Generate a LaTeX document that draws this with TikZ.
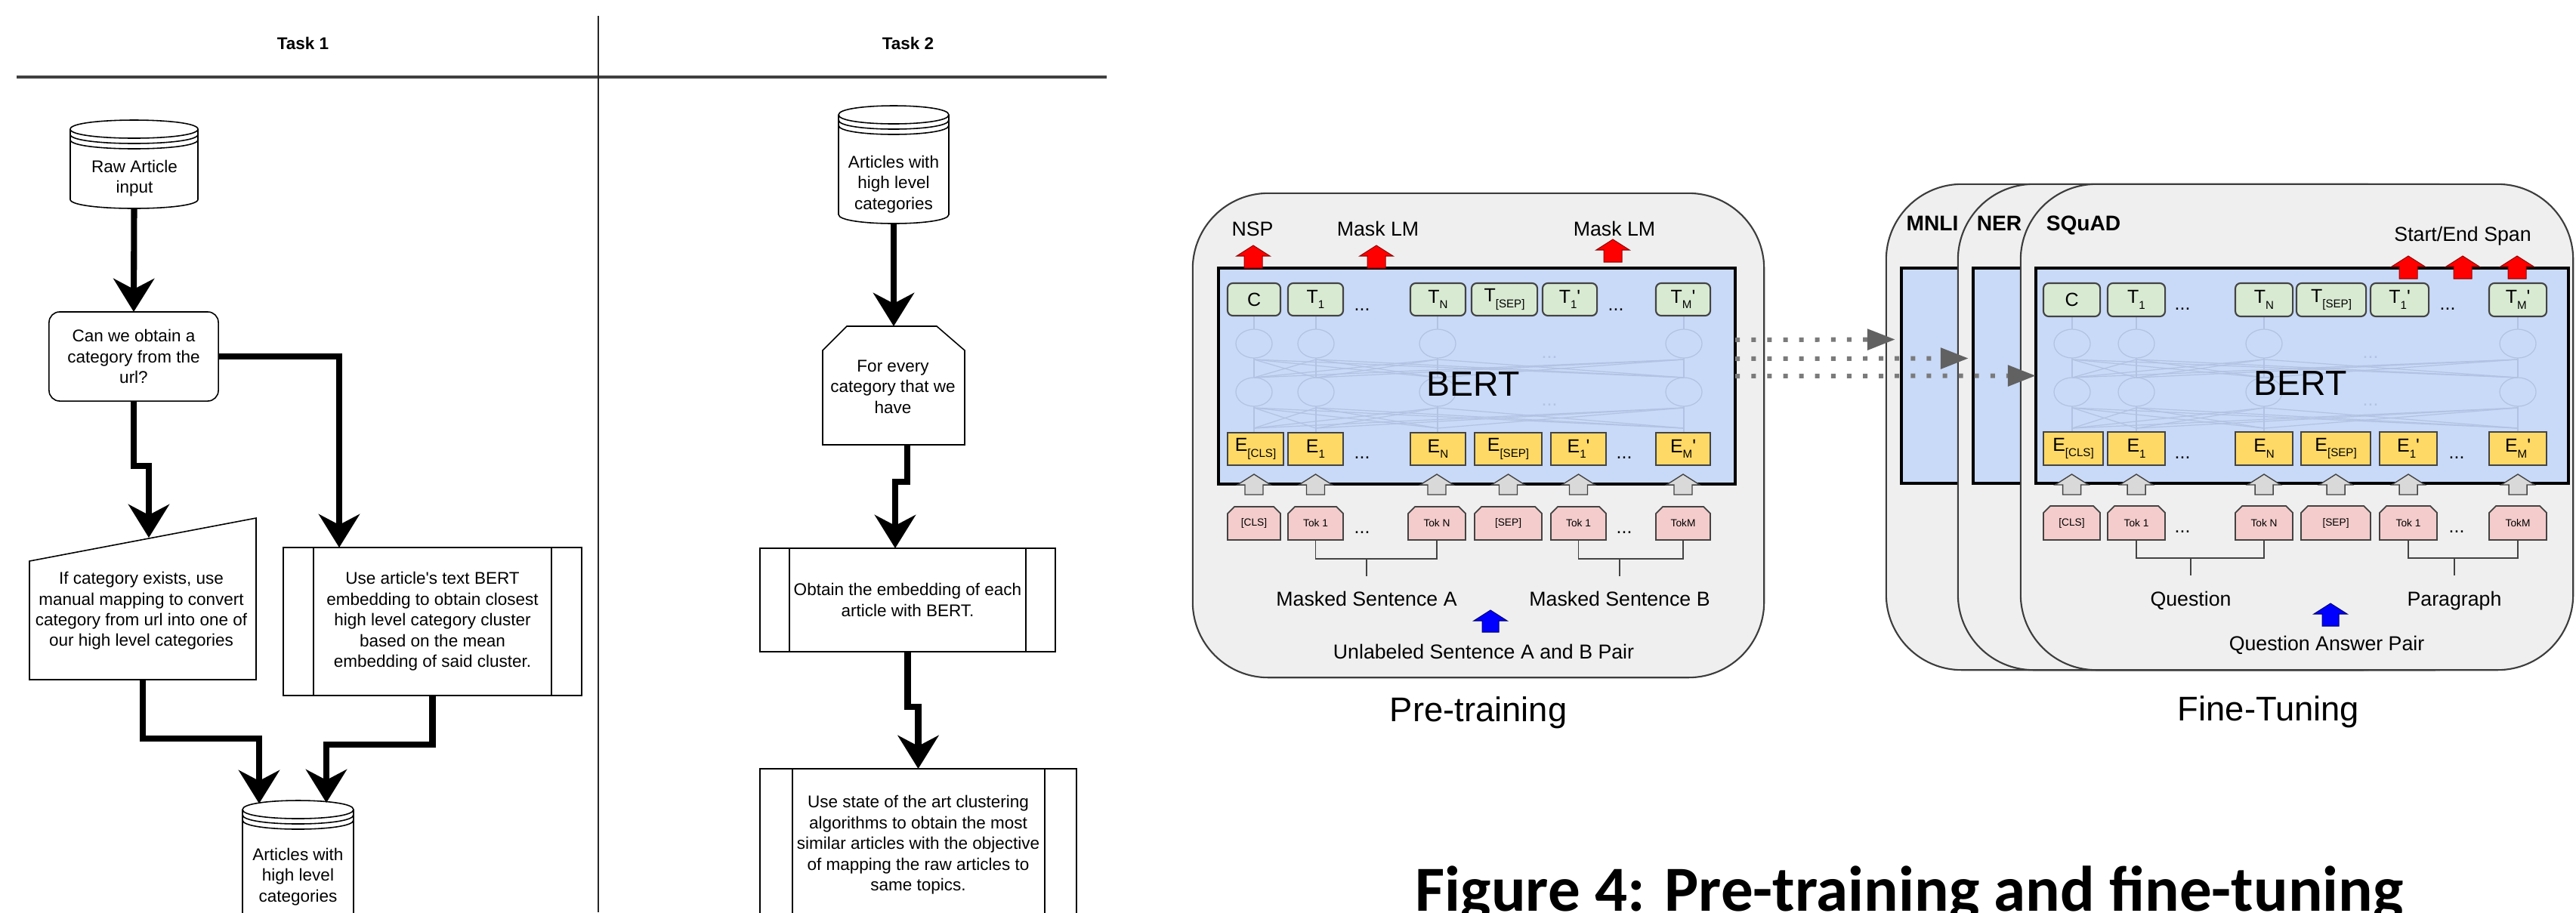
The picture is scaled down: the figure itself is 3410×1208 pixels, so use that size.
\documentclass[tikz,border=0pt]{standalone}
\usepackage{fontspec}
\usepackage{graphicx}
\setmainfont{Liberation Sans}
\newfontfamily\capfont{Carlito}
\usetikzlibrary{arrows.meta,calc}

\definecolor{panelbg}{HTML}{EFEFEF}
\definecolor{panelln}{HTML}{3C3C3C}
\definecolor{bertbl}{HTML}{C9DAF8}
\definecolor{tgreen}{HTML}{D9EAD3}
\definecolor{eyel}{HTML}{FFD966}
\definecolor{tokpink}{HTML}{F4CCCC}
\definecolor{garrow}{HTML}{D9D9D9}
\definecolor{boxln}{HTML}{434343}
\definecolor{faint}{HTML}{B2C2E2}
\definecolor{dotgray}{HTML}{7A7A7A}

\newcommand{\flowfs}{\fontsize{6.4pt}{7.8pt}\selectfont}
\newcommand{\taskfs}{\fontsize{6.4pt}{7.5pt}\selectfont\bfseries}
\newcommand{\lblfs}{\fontsize{7.6pt}{9pt}\selectfont}
\newcommand{\bigfs}{\fontsize{12.9pt}{15pt}\selectfont}
\newcommand{\bertfs}{\fontsize{13.2pt}{15pt}\selectfont}
\newcommand{\tasknmfs}{\fontsize{8pt}{9pt}\selectfont\bfseries}
\newcommand{\boxfs}{\fontsize{7.1pt}{8pt}\selectfont}
\newcommand{\subfs}{\fontsize{4.3pt}{5pt}\selectfont}
\newcommand{\tokfs}{\fontsize{3.9pt}{4.6pt}\selectfont}
\newcommand{\sbs}[1]{\raisebox{-0.55ex}{\subfs #1}}
\newcommand{\prm}{\textquotesingle}

% generic box: style, name, x1, x2, y1, y2, text
\newcommand{\mkbox}[7]{%
  \pgfmathsetmacro{\bxcx}{(#3+#4)/2}%
  \pgfmathsetmacro{\bxcy}{(#5+#6)/2}%
  \pgfmathsetmacro{\bxw}{(#4-#3)/100}%
  \pgfmathsetmacro{\bxh}{(#6-#5)/100}%
  \node[#1, minimum width=\bxw cm, minimum height=\bxh cm] (#2) at (\bxcx,\bxcy) {#7};}
% token box with chamfered top corners: name, x1, x2, y1, y2, text
\newcommand{\tokn}[6]{%
  \pgfmathsetmacro{\bxcx}{(#2+#3)/2}%
  \pgfmathsetmacro{\bxcy}{(#4+#5)/2}%
  \pgfmathsetmacro{\bxw}{(#3-#2)/100}%
  \pgfmathsetmacro{\bxh}{(#5-#4)/100}%
  \draw[tokline] (#2,#5) -- (#2,#4+9) -- (#2+9,#4) -- (#3-9,#4) -- (#3,#4+9) -- (#3,#5) -- cycle;
  \node[toktxt, minimum width=\bxw cm, minimum height=\bxh cm] (#1) at (\bxcx,\bxcy) {#6};}
% block arrow pointing up: style, cx, ytip, ybase, half head, half shaft
\newcommand{\blkup}[6]{%
  \draw[#1] (#2,#3) -- (#2+#5,#3+14) -- (#2+#6,#3+14) -- (#2+#6,#4) -- (#2-#6,#4) -- (#2-#6,#3+14) -- (#2-#5,#3+14) -- cycle;}
% datastore cylinder: x1, x2, ytop, ybot
\newcommand{\cylshape}[4]{%
  \draw[flowshape] (#1,#3+12) -- (#1,#4-12) .. controls (#1,#4+4) and (#2,#4+4) .. (#2,#4-12) -- (#2,#3+12) .. controls (#2,#3-4) and (#1,#3-4) .. (#1,#3+12) -- cycle;
  \draw[flowshape,fill=none] (#1,#3+12) .. controls (#1,#3+28) and (#2,#3+28) .. (#2,#3+12);
  \draw[flowshape,fill=none] (#1,#3+19) .. controls (#1,#3+35) and (#2,#3+35) .. (#2,#3+19);
  \draw[flowshape,fill=none] (#1,#3+26) .. controls (#1,#3+42) and (#2,#3+42) .. (#2,#3+26);}
% faint network inside a BERT box: list of columns, x of faint dots
\newcommand{\faintnet}[2]{%
  \foreach \c in {#1} {
    \draw[faintln] (\c,455) ellipse [x radius=0.24cm, y radius=0.19cm];
    \draw[faintln] (\c,519) ellipse [x radius=0.24cm, y radius=0.19cm];
    \draw[faintln] (\c,418) -- (\c,436);
    \draw[faintln] (\c,474) -- (\c,500);
    \draw[faintln] (\c,538) -- (\c,573);
    \foreach \d in {#1} {
      \draw[faintln] (\c,500) -- (\d,476);
      \draw[faintln] (\c,567) -- (\d,540);
    }
  }
  \node[font=\boxfs, text=faint, inner sep=0pt, anchor=base] at (#2,474) {...};
  \node[font=\boxfs, text=faint, inner sep=0pt, anchor=base] at (#2,537) {...};}

\begin{document}
\begin{tikzpicture}[x=0.01cm, y=-0.01cm,
  flowarrow/.style={line width=2.3pt, line join=miter, -{Stealth[length=0.44cm, width=0.54cm, inset=0.14cm]}},
  flowshape/.style={draw=black, fill=white, line width=0.45pt},
  flowtxt/.style={align=center, font=\flowfs, inner sep=0pt},
  ghost/.style={draw=none, inner sep=0pt, outer sep=0pt},
  decbox/.style={draw=black, fill=white, line width=0.45pt, rounded corners=0.14cm, align=center, font=\flowfs, inner sep=0pt, outer sep=0pt},
  subbox/.style={draw=black, fill=white, line width=0.45pt, align=center, font=\flowfs, inner sep=0pt, outer sep=0pt},
  tasklbl/.style={font=\taskfs, inner sep=0pt, anchor=base},
  laneln/.style={draw=black!85, line width=0.6pt},
  hdrln/.style={draw=black!75, line width=1pt},
  panel/.style={draw=panelln, fill=panelbg, line width=0.6pt, rounded corners=1cm, inner sep=0pt, outer sep=0pt},
  bertbox/.style={draw=black, fill=bertbl, line width=1.1pt, inner sep=0pt, outer sep=0pt},
  tbox/.style={draw=boxln, fill=tgreen, rounded corners=0.07cm, line width=0.6pt, font=\boxfs, inner sep=0pt, outer sep=0pt},
  ebox/.style={draw=boxln, fill=eyel, line width=0.5pt, font=\boxfs, inner sep=0pt, outer sep=0pt},
  toktxt/.style={font=\tokfs, inner sep=0pt, outer sep=0pt},
  tokline/.style={draw=boxln, fill=tokpink, line width=0.5pt},
  garr/.style={draw=boxln, fill=garrow, line width=0.4pt},
  rarr/.style={draw=red!60!black, fill=red, line width=0.3pt},
  barr/.style={draw=blue!50!black, fill=blue, line width=0.3pt},
  lbl/.style={font=\lblfs, inner sep=0pt, anchor=base},
  biglbl/.style={font=\bigfs, inner sep=0pt, anchor=base},
  bertlbl/.style={font=\bertfs, inner sep=0pt, anchor=base},
  tasknm/.style={font=\tasknmfs, inner sep=0pt, anchor=base west},
  dotsl/.style={font=\boxfs, inner sep=0pt, anchor=base},
  brk/.style={draw=boxln, line width=0.5pt},
  faintln/.style={draw=faint, line width=0.35pt},
  dotarr/.style={draw=dotgray, line width=1.7pt, dash pattern=on 1.7pt off 4.3pt, -{Triangle[length=0.37cm, width=0.27cm, color=black!62]}}
]
\useasboundingbox (0,0) rectangle (3410,1208);
\fill[white] (0,0) rectangle (3410,1208);

%% ================= swimlane flowchart =================
\draw[hdrln] (22,102) -- (1465,102);
\draw[laneln] (792,21) -- (792,1208);
\node[tasklbl] (task1) at (401,65) {Task 1};
\node[tasklbl] (task2) at (1202,65) {Task 2};

% --- Task 1 ---
\cylshape{93}{262}{159}{276}
\mkbox{ghost}{raw}{93}{262}{159}{276}{}
\node[flowtxt] (rawtxt) at (178,236) {Raw Article\\input};

\mkbox{decbox}{dec}{65}{289}{413}{531}{Can we obtain a\\category from the\\url?}
\draw[flowarrow] (raw.south) -- (dec.north);

\draw[flowshape] (39,743) -- (339,686) -- (339,900) -- (39,900) -- cycle;
\mkbox{ghost}{man}{39}{339}{686}{900}{}
\node[flowtxt] (mantxt) at (187,809) {If category exists, use\\manual mapping to convert\\category from url into one of\\our high level categories};
\coordinate (manin) at (197,712);
\draw[flowarrow] (dec.south) -- ++(0,86) -| (manin);

\mkbox{subbox}{sub1}{375}{770}{725}{921}{Use article\textquotesingle s text BERT\\embedding to obtain closest\\high level category cluster\\based on the mean\\embedding of said cluster.}
\draw[flowshape] ($(sub1.north west)+(40,0)$) -- ($(sub1.south west)+(40,0)$);
\draw[flowshape] ($(sub1.north east)+(-40,0)$) -- ($(sub1.south east)+(-40,0)$);
\coordinate (sub1in) at (449,725);
\draw[flowarrow] (dec.east) -| (sub1in);

\cylshape{321}{468}{1060}{1262}
\mkbox{ghost}{out1}{321}{468}{1060}{1262}{}
\node[flowtxt] (out1txt) at (394.5,1161) {Articles with\\high level\\categories};
\coordinate (out1L) at (343,1064);
\coordinate (out1R) at (432,1063);
\draw[flowarrow] (man.south) -- ++(0,78) -| (out1L);
\draw[flowarrow] (sub1.south) -- ++(0,65) -| (out1R);

% --- Task 2 ---
\cylshape{1110}{1256}{140}{296}
\mkbox{ghost}{art2}{1110}{1256}{140}{296}{}
\node[flowtxt] (art2txt) at (1183,244) {Articles with\\high level\\categories};

\draw[flowshape] (1089,464) -- (1121,432) -- (1240,432) -- (1277,464) -- (1277,589) -- (1089,589) -- cycle;
\mkbox{ghost}{loop}{1089}{1277}{432}{589}{}
\node[flowtxt] (looptxt) at (1182,512) {For every\\category that we\\have};
\draw[flowarrow] (art2.south) -- (loop.north);

\mkbox{subbox}{sub2}{1006}{1397}{726}{863}{Obtain the embedding of each\\article with BERT.}
\draw[flowshape] ($(sub2.north west)+(39,0)$) -- ($(sub2.south west)+(39,0)$);
\draw[flowshape] ($(sub2.north east)+(-39,0)$) -- ($(sub2.south east)+(-39,0)$);
\coordinate (sub2in) at (1185,726);
\draw[flowarrow] ($(loop.south)+(18,0)$) -- ++(0,49) -| (sub2in);

\mkbox{subbox}{sub3}{1006}{1425}{1018}{1220}{Use state of the art clustering\\algorithms to obtain the most\\similar articles with the objective\\of mapping the raw articles to\\same topics.}
\draw[flowshape] ($(sub3.north west)+(43,0)$) -- ($(sub3.south west)+(43,0)$);
\draw[flowshape] ($(sub3.north east)+(-42,0)$) -- ($(sub3.south east)+(-42,0)$);
\draw[flowarrow] (sub2.south) -- ++(0,73) -| (sub3.north);

%% ================= BERT pre-training =================
\mkbox{panel}{pre}{1579}{2335}{256}{897}{}
\mkbox{bertbox}{pbert}{1613}{2297}{355}{641}{}
\faintnet{1660,1742,1903,2229}{2051}
\node[bertlbl] (pbertlbl) at (1950,524) {BERT};

\mkbox{tbox}{pT0}{1625}{1695}{375}{418}{C}
\mkbox{tbox}{pT1}{1705}{1778}{375}{418}{T\sbs{1}}
\mkbox{tbox}{pTN}{1867}{1940}{375}{418}{T\sbs{N}}
\mkbox{tbox}{pTS}{1948}{2035}{375}{418}{T\sbs{[SEP]}}
\mkbox{tbox}{pT1b}{2042}{2114}{375}{418}{T\sbs{1}\prm}
\mkbox{tbox}{pTM}{2192}{2264}{375}{418}{T\sbs{M}\prm}
\node[dotsl] at (1803,411) {...};
\node[dotsl] at (2139,411) {...};

\mkbox{ebox}{pE0}{1625}{1699}{573}{616}{E\sbs{[CLS]}}
\mkbox{ebox}{pE1}{1705}{1778}{573}{616}{E\sbs{1}}
\mkbox{ebox}{pEN}{1867}{1940}{573}{616}{E\sbs{N}}
\mkbox{ebox}{pES}{1952}{2041}{573}{616}{E\sbs{[SEP]}}
\mkbox{ebox}{pE1b}{2053}{2126}{573}{616}{E\sbs{1}\prm}
\mkbox{ebox}{pEM}{2192}{2264}{573}{616}{E\sbs{M}\prm}
\node[dotsl] at (1803,607) {...};
\node[dotsl] at (2150,607) {...};

\tokn{pK0}{1625}{1695}{671}{715}{[CLS]}
\tokn{pK1}{1705}{1778}{671}{715}{Tok 1}
\tokn{pKN}{1864}{1940}{671}{715}{Tok N}
\tokn{pKS}{1952}{2041}{671}{715}{[SEP]}
\tokn{pK1b}{2053}{2126}{671}{715}{Tok 1}
\tokn{pKM}{2192}{2264}{671}{715}{TokM}
\node[dotsl] at (1803,706) {...};
\node[dotsl] at (2150,706) {...};

\foreach \x in {1660,1741.5,1902,1996.5,2089.5,2228} {\blkup{garr}{\x}{628}{655}{22}{12}}
\blkup{rarr}{1659}{325}{355}{22}{12}
\blkup{rarr}{1822}{325}{355}{22}{12}
\blkup{rarr}{2135}{317}{347}{22}{12}
\node[lbl] (nsp) at (1658,312) {NSP};
\node[lbl] (mlm1) at (1824,312) {Mask LM};
\node[lbl] (mlm2) at (2137,312) {Mask LM};

\draw[brk] (pK1.south) -- ++(0,25) -| (pKN.south);
\draw[brk] (pK1b.south) -- ++(0,25) -| (pKM.south);
\coordinate (stemA) at (1809,740);
\coordinate (stemB) at (2144,740);
\draw[brk] (stemA) -- ++(0,23);
\draw[brk] (stemB) -- ++(0,23);
\node[lbl] (msa) at (1809,802) {Masked Sentence A};
\node[lbl] (msb) at (2144,802) {Masked Sentence B};
\blkup{barr}{1973}{808}{837}{22}{11}
\node[lbl] (unl) at (1964,872) {Unlabeled Sentence A and B Pair};
\node[biglbl] (pretr) at (1957,955) {Pre-training};

%% ================= BERT fine-tuning =================
\mkbox{panel}{pmnli}{2497}{3228}{244}{887}{}
\mkbox{bertbox}{mnlib}{2517}{3222}{355}{640}{}
\node[tasknm] (mnlil) at (2523,305) {MNLI};
\mkbox{panel}{pner}{2592}{3323}{244}{887}{}
\mkbox{bertbox}{nerb}{2612}{3317}{355}{640}{}
\node[tasknm] (nerl) at (2616,305) {NER};
\mkbox{panel}{psq}{2675}{3406}{244}{887}{}
\mkbox{bertbox}{sqb}{2695}{3400}{355}{640}{}
\node[tasknm] (sql) at (2708,305) {SQuAD};

\faintnet{2743,2828,2997,3333}{3138}
\node[bertlbl] (fbertlbl) at (3045,523) {BERT};

\mkbox{tbox}{fT0}{2705}{2780}{375}{419}{C}
\mkbox{tbox}{fT1}{2790}{2866}{375}{419}{T\sbs{1}}
\mkbox{tbox}{fTN}{2959}{3035}{375}{419}{T\sbs{N}}
\mkbox{tbox}{fTS}{3040}{3132}{375}{419}{T\sbs{[SEP]}}
\mkbox{tbox}{fT1b}{3138}{3215}{375}{419}{T\sbs{1}\prm}
\mkbox{tbox}{fTM}{3295}{3371}{375}{419}{T\sbs{M}\prm}
\node[dotsl] at (2889,410) {...};
\node[dotsl] at (3240,410) {...};

\mkbox{ebox}{fE0}{2705}{2784}{572}{616}{E\sbs{[CLS]}}
\mkbox{ebox}{fE1}{2790}{2866}{572}{616}{E\sbs{1}}
\mkbox{ebox}{fEN}{2959}{3035}{572}{616}{E\sbs{N}}
\mkbox{ebox}{fES}{3046}{3138}{572}{616}{E\sbs{[SEP]}}
\mkbox{ebox}{fE1b}{3150}{3226}{572}{616}{E\sbs{1}\prm}
\mkbox{ebox}{fEM}{3295}{3371}{572}{616}{E\sbs{M}\prm}
\node[dotsl] at (2889,607) {...};
\node[dotsl] at (3252,607) {...};

\tokn{fK0}{2705}{2780}{670}{715}{[CLS]}
\tokn{fK1}{2790}{2866}{670}{715}{Tok 1}
\tokn{fKN}{2959}{3035}{670}{715}{Tok N}
\tokn{fKS}{3046}{3138}{670}{715}{[SEP]}
\tokn{fK1b}{3150}{3226}{670}{715}{Tok 1}
\tokn{fKM}{3295}{3371}{670}{715}{TokM}
\node[dotsl] at (2889,705) {...};
\node[dotsl] at (3252,705) {...};

\foreach \x in {2742.5,2828,2997,3092,3188,3333} {\blkup{garr}{\x}{628}{655}{22}{12}}
\blkup{rarr}{3188}{339}{369}{22}{12}
\blkup{rarr}{3260}{339}{369}{22}{12}
\blkup{rarr}{3332}{339}{369}{22}{12}
\node[lbl] (span) at (3260,319) {Start/End Span};

\draw[brk] (fK1.south) -- ++(0,24) -| (fKN.south);
\draw[brk] (fK1b.south) -- ++(0,24) -| (fKM.south);
\coordinate (stemQ) at (2900,739);
\coordinate (stemP) at (3249,739);
\draw[brk] (stemQ) -- ++(0,23);
\draw[brk] (stemP) -- ++(0,23);
\node[lbl] (ques) at (2900,802) {Question};
\node[lbl] (para) at (3249,802) {Paragraph};
\blkup{barr}{3085}{799}{829}{22}{11}
\node[lbl] (qap) at (3080,861) {Question Answer Pair};
\node[biglbl] (fine) at (3003,954) {Fine-Tuning};

%% dotted transfer arrows
\draw[dotarr] ($(pbert.east)+(0,-48)$) -- ($(mnlib.west)+(-8,-48)$);
\draw[dotarr] ($(pbert.east)+(0,-23)$) -- ($(nerb.west)+(-6,-23)$);
\draw[dotarr] (pbert.east) -- (sqb.west);

%% caption
\node[inner sep=0pt, anchor=base west] (caption) at (1873,1206) {\resizebox{13.07cm}{!}{\capfont\bfseries Figure 4: Pre-training and fine-tuning}};
\end{tikzpicture}
\end{document}
